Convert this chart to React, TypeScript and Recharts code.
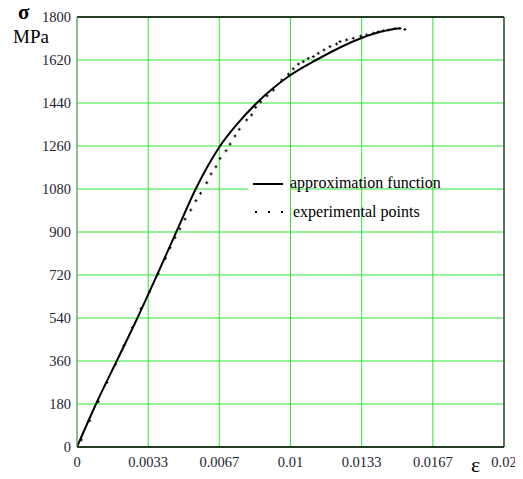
import React from "react";
import {
  ComposedChart,
  Line,
  Scatter,
  XAxis,
  YAxis,
  CartesianGrid,
  ReferenceLine,
} from "recharts";

// approximation function (strain, stress MPa)
const approxStrain = [
  0, 0.00089, 0.00186, 0.00283, 0.00375, 0.00465, 0.00556, 0.0061, 0.0067,
  0.0075, 0.00842, 0.01, 0.0112, 0.0133, 0.0143, 0.01513,
];
const approxStress = [
  0, 180, 360, 540, 720, 900, 1080, 1172, 1260, 1352, 1440, 1557, 1620, 1711,
  1740, 1753,
];

// experimental points
const expStrain = [
  0.0002, 0.0006, 0.001, 0.0014, 0.0018, 0.0022, 0.0026, 0.003, 0.0034, 0.0038,
  0.00414, 0.00436, 0.00459, 0.00482, 0.00506, 0.00533, 0.00557, 0.00579,
  0.00608, 0.00628, 0.00651, 0.0067, 0.00698, 0.00717, 0.0074, 0.0076,
  0.00795, 0.00818, 0.00837, 0.0086, 0.0089, 0.0092, 0.00959, 0.0099,
  0.01013, 0.01037, 0.0106, 0.01083, 0.01107, 0.0113, 0.01157, 0.01185,
  0.01216, 0.01232, 0.01263, 0.01294, 0.01329, 0.01357, 0.01388, 0.01411,
  0.01435, 0.01458, 0.0149, 0.01513, 0.01536,
];
const expStress = [
  30, 110, 190, 270, 345, 425, 500, 580, 650, 725, 790, 834, 876, 913, 954,
  992, 1031, 1062, 1106, 1143, 1173, 1208, 1240, 1268, 1302, 1330, 1369, 1390,
  1422, 1445, 1470, 1494, 1536, 1561, 1583, 1603, 1613, 1627, 1634, 1648, 1662,
  1676, 1687, 1697, 1704, 1711, 1720, 1725, 1732, 1738, 1742, 1745, 1752, 1752,
  1748,
];

const xTicks = [0, 0.02 / 6, 0.04 / 6, 0.01, 0.08 / 6, 0.1 / 6, 0.02];
const xTickLabels = ["0", "0.0033", "0.0067", "0.01", "0.0133", "0.0167", "0.02"];
const yTicks = [0, 180, 360, 540, 720, 900, 1080, 1260, 1440, 1620, 1800];

const approxData = approxStrain.map((e, i) => ({ e, s: approxStress[i] }));
const expData = expStrain.map((e, i) => ({ e, s: expStress[i] }));

const GREEN = "#2ee62e";
const SERIF = "Liberation Serif, Times New Roman, serif";
const TICK_COLOR = "#1e2433";

const xLabel = (v: number) => {
  const i = xTicks.findIndex((t) => Math.abs(t - v) < 1e-9);
  return i >= 0 ? xTickLabels[i] : String(v);
};

const XTick = (props: any) => {
  const { x, y, payload } = props;
  return (
    <text
      x={x}
      y={y + 12}
      textAnchor="middle"
      fontFamily={SERIF}
      fontSize={14.5}
      fill={TICK_COLOR}
    >
      {xLabel(payload.value)}
    </text>
  );
};

const YTick = (props: any) => {
  const { x, y, payload } = props;
  return (
    <text
      x={x + 1}
      y={y + 5}
      textAnchor="end"
      fontFamily={SERIF}
      fontSize={14.5}
      fill={TICK_COLOR}
    >
      {payload.value}
    </text>
  );
};

const Plus = (props: any) => {
  const { cx, cy } = props;
  if (cx == null || cy == null) return null;
  return (
    <path
      d={`M${cx - 1.5},${cy}H${cx + 1.5}M${cx},${cy - 1.5}V${cy + 1.5}`}
      stroke="#000"
      strokeWidth={1}
    />
  );
};

export default function App() {
  return (
    <div style={{ position: "relative", width: 515, height: 471 }}>
      <ComposedChart
        width={515}
        height={471}
        margin={{ top: 9, right: 19, bottom: 0, left: 0 }}
      >
        <CartesianGrid stroke={GREEN} strokeWidth={1} horizontal vertical />
        <XAxis
          type="number"
          dataKey="e"
          domain={[0, 0.02]}
          ticks={xTicks}
          interval={0}
          tickFormatter={xLabel}
          tickLine={false}
          axisLine={{ stroke: "#000", strokeWidth: 1.5 }}
          tick={XTick}
          tickMargin={2}
          height={32}
          allowDataOverflow
        />
        <YAxis
          type="number"
          dataKey="s"
          domain={[0, 1800]}
          ticks={yTicks}
          interval={0}
          tickLine={false}
          axisLine={{ stroke: "#888" }}
          tick={YTick}
          tickMargin={1}
          width={69}
          allowDataOverflow
        />
        <ReferenceLine y={1800} stroke="#000" strokeWidth={1.5} />
        <ReferenceLine x={0.02} stroke="#444" strokeWidth={1.5} />
        <Line
          data={approxData}
          dataKey="s"
          type="monotone"
          stroke="#000"
          strokeWidth={2}
          dot={false}
          isAnimationActive={false}
        />
        <Scatter
          data={expData}
          dataKey="s"
          shape={Plus}
          isAnimationActive={false}
        />
      </ComposedChart>

      {/* axis titles */}
      <div
        style={{
          position: "absolute",
          left: 10,
          top: -6,
          fontFamily: SERIF,
          fontSize: 21,
          fontWeight: "bold",
          lineHeight: "20px",
        }}
      >
        σ
      </div>
      <div
        style={{
          position: "absolute",
          left: 5,
          top: 19,
          fontFamily: SERIF,
          fontSize: 19,
          lineHeight: "19px",
        }}
      >
        MPa
      </div>
      <div
        style={{
          position: "absolute",
          left: 463,
          top: 446,
          fontFamily: SERIF,
          fontSize: 22,
          lineHeight: "22px",
        }}
      >
        ε
      </div>

      {/* legend */}
      <div
        style={{
          position: "absolute",
          left: 240,
          top: 167,
          width: 42,
          height: 47,
          background: "#fff",
        }}
      />
      <div
        style={{
          position: "absolute",
          left: 245,
          top: 175,
          width: 30,
          height: 2,
          background: "#000",
        }}
      />
      <div
        style={{
          position: "absolute",
          left: 282,
          top: 165,
          fontFamily: SERIF,
          fontSize: 16,
          lineHeight: "20px",
          whiteSpace: "nowrap",
        }}
      >
        approximation function
      </div>
      {[247, 260, 273].map((x) => (
        <div
          key={x}
          style={{
            position: "absolute",
            left: x,
            top: 203,
            width: 2,
            height: 2,
            background: "#000",
          }}
        />
      ))}
      <div
        style={{
          position: "absolute",
          left: 285,
          top: 194,
          fontFamily: SERIF,
          fontSize: 16,
          lineHeight: "20px",
          whiteSpace: "nowrap",
        }}
      >
        experimental points
      </div>
    </div>
  );
}
